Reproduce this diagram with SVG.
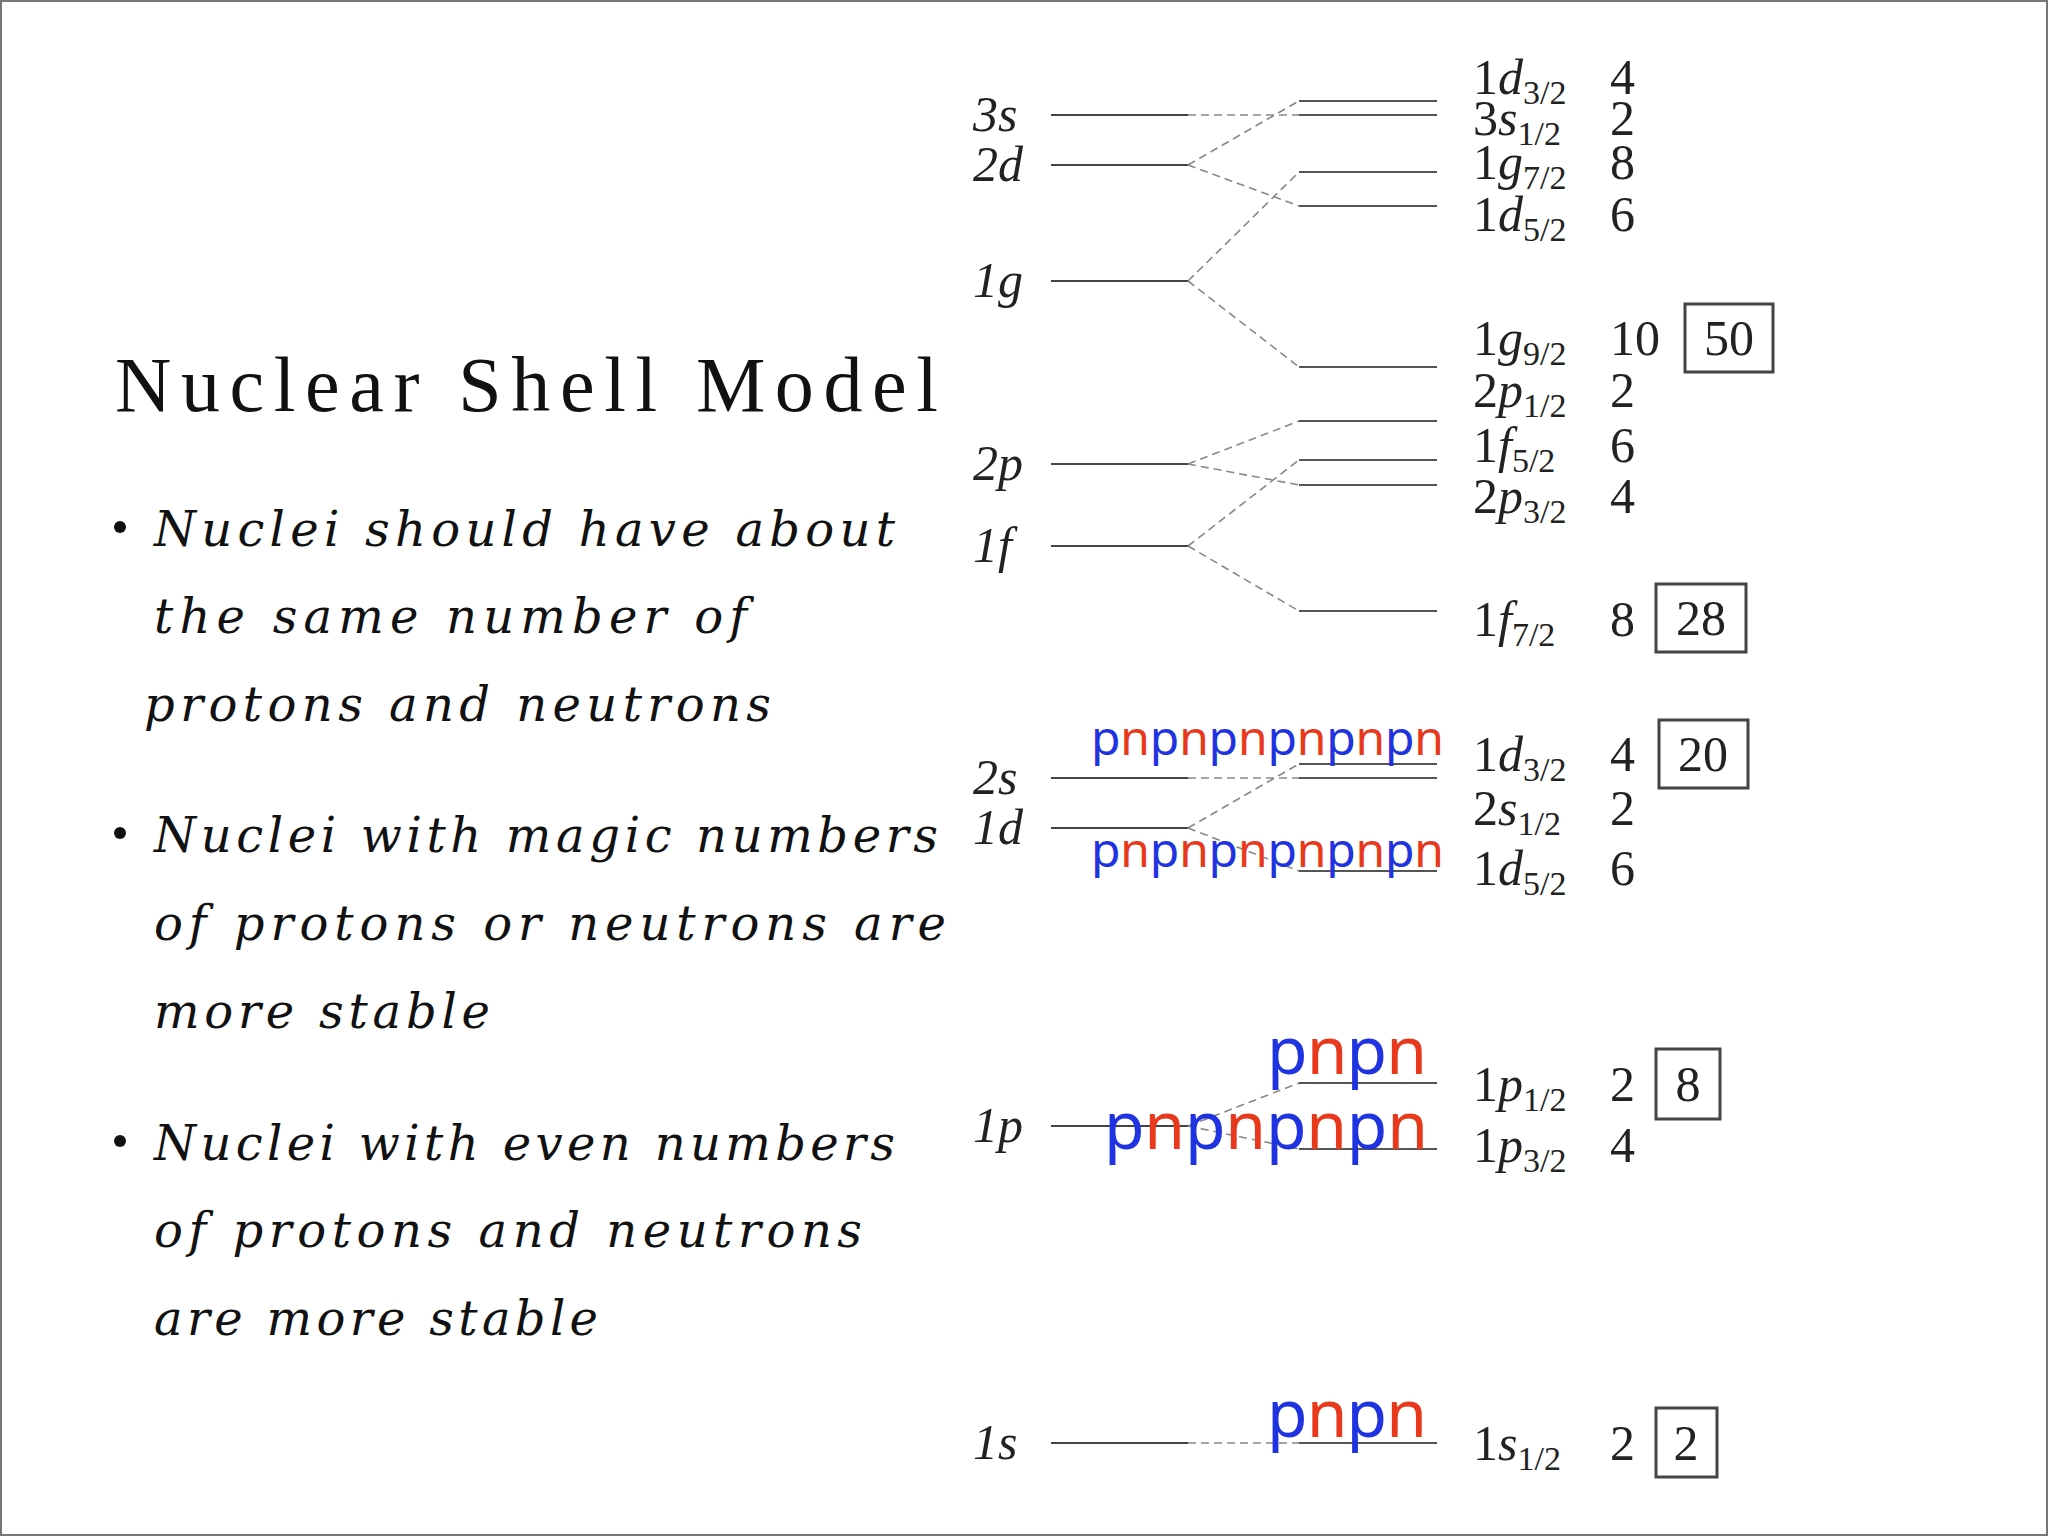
<svg xmlns="http://www.w3.org/2000/svg" width="2048" height="1536" viewBox="0 0 2048 1536">
<style>
.lv{stroke:#444;stroke-width:2}
.rv{stroke:#555;stroke-width:2}
.cn line{stroke:#888;stroke-width:1.6;stroke-dasharray:8 5}
.ll{font-family:"Liberation Serif",serif;font-style:italic;font-size:50px;fill:#222}
.rl{font-family:"Liberation Serif",serif;font-size:50px;fill:#222}
.sub{font-size:34px}
.bx{fill:none;stroke:#444;stroke-width:3}
.bt{font-family:"Liberation Serif",serif;font-size:50px;fill:#222;text-anchor:middle}
.bl{font-family:"DejaVu Serif",serif;font-style:italic;font-size:48px;fill:#111}
.pn{font-family:"Noto Sans",sans-serif}
.p{fill:#1f33e0}.n{fill:#e8391c}
</style>
<rect x="1" y="1" width="2046" height="1534" fill="#fff" stroke="#777" stroke-width="2"/>
<text x="115" y="411" font-family="Liberation Serif,serif" font-size="78" textLength="823" fill="#111">Nuclear Shell Model</text>
<g id="bullets">
<circle cx="120" cy="527" r="6" fill="#111"/><circle cx="120" cy="833" r="6" fill="#111"/><circle cx="120" cy="1141" r="6" fill="#111"/>
<text class="bl" x="154" y="546" textLength="741">Nuclei should have about</text>
<text class="bl" x="154" y="633" textLength="593">the same number of</text>
<text class="bl" x="144" y="721" textLength="627">protons and neutrons</text>
<text class="bl" x="154" y="852" textLength="784">Nuclei with magic numbers</text>
<text class="bl" x="154" y="940" textLength="792">of protons or neutrons are</text>
<text class="bl" x="154" y="1028" textLength="336">more stable</text>
<text class="bl" x="154" y="1160" textLength="741">Nuclei with even numbers</text>
<text class="bl" x="154" y="1247" textLength="708">of protons and neutrons</text>
<text class="bl" x="154" y="1335" textLength="444">are more stable</text>
</g>
<g id="left-levels">
<line class="lv" x1="1051" x2="1188" y1="115" y2="115"/><text class="ll" x="973" y="131">3s</text>
<line class="lv" x1="1051" x2="1188" y1="165" y2="165"/><text class="ll" x="973" y="181">2d</text>
<line class="lv" x1="1051" x2="1188" y1="281" y2="281"/><text class="ll" x="973" y="297">1g</text>
<line class="lv" x1="1051" x2="1188" y1="464" y2="464"/><text class="ll" x="973" y="480">2p</text>
<line class="lv" x1="1051" x2="1188" y1="546" y2="546"/><text class="ll" x="973" y="562">1f</text>
<line class="lv" x1="1051" x2="1188" y1="778" y2="778"/><text class="ll" x="973" y="794">2s</text>
<line class="lv" x1="1051" x2="1188" y1="828" y2="828"/><text class="ll" x="973" y="844">1d</text>
<line class="lv" x1="1051" x2="1188" y1="1126" y2="1126"/><text class="ll" x="973" y="1142">1p</text>
<line class="lv" x1="1051" x2="1188" y1="1443" y2="1443"/><text class="ll" x="973" y="1459">1s</text>
</g>
<g id="connectors" class="cn">
<line x1="1188" y1="115" x2="1299" y2="115"/>
<line x1="1188" y1="165" x2="1299" y2="101"/><line x1="1188" y1="165" x2="1299" y2="206"/>
<line x1="1188" y1="281" x2="1299" y2="172"/><line x1="1188" y1="281" x2="1299" y2="367"/>
<line x1="1188" y1="464" x2="1299" y2="421"/><line x1="1188" y1="464" x2="1299" y2="485"/>
<line x1="1188" y1="546" x2="1299" y2="460"/><line x1="1188" y1="546" x2="1299" y2="611"/>
<line x1="1188" y1="778" x2="1299" y2="778"/>
<line x1="1188" y1="828" x2="1299" y2="764"/><line x1="1188" y1="828" x2="1299" y2="871"/>
<line x1="1188" y1="1126" x2="1299" y2="1083"/><line x1="1188" y1="1126" x2="1299" y2="1149"/>
<line x1="1188" y1="1443" x2="1299" y2="1443"/>
</g>
<g id="right-levels">
<line class="rv" x1="1299" x2="1437" y1="101" y2="101"/><text class="rl" x="1473" y="94">1<tspan font-style="italic">d</tspan><tspan class="sub" dy="10">3/2</tspan></text><text class="rl" x="1610" y="94">4</text>
<line class="rv" x1="1299" x2="1437" y1="115" y2="115"/><text class="rl" x="1473" y="135">3<tspan font-style="italic">s</tspan><tspan class="sub" dy="10">1/2</tspan></text><text class="rl" x="1610" y="135">2</text>
<line class="rv" x1="1299" x2="1437" y1="172" y2="172"/><text class="rl" x="1473" y="179">1<tspan font-style="italic">g</tspan><tspan class="sub" dy="10">7/2</tspan></text><text class="rl" x="1610" y="179">8</text>
<line class="rv" x1="1299" x2="1437" y1="206" y2="206"/><text class="rl" x="1473" y="231">1<tspan font-style="italic">d</tspan><tspan class="sub" dy="10">5/2</tspan></text><text class="rl" x="1610" y="231">6</text>
<line class="rv" x1="1299" x2="1437" y1="367" y2="367"/><text class="rl" x="1473" y="355">1<tspan font-style="italic">g</tspan><tspan class="sub" dy="10">9/2</tspan></text><text class="rl" x="1610" y="355">10</text>
<line class="rv" x1="1299" x2="1437" y1="421" y2="421"/><text class="rl" x="1473" y="407">2<tspan font-style="italic">p</tspan><tspan class="sub" dy="10">1/2</tspan></text><text class="rl" x="1610" y="407">2</text>
<line class="rv" x1="1299" x2="1437" y1="460" y2="460"/><text class="rl" x="1473" y="462">1<tspan font-style="italic">f</tspan><tspan class="sub" dy="10">5/2</tspan></text><text class="rl" x="1610" y="462">6</text>
<line class="rv" x1="1299" x2="1437" y1="485" y2="485"/><text class="rl" x="1473" y="513">2<tspan font-style="italic">p</tspan><tspan class="sub" dy="10">3/2</tspan></text><text class="rl" x="1610" y="513">4</text>
<line class="rv" x1="1299" x2="1437" y1="611" y2="611"/><text class="rl" x="1473" y="636">1<tspan font-style="italic">f</tspan><tspan class="sub" dy="10">7/2</tspan></text><text class="rl" x="1610" y="636">8</text>
<line class="rv" x1="1299" x2="1437" y1="764" y2="764"/><text class="rl" x="1473" y="771">1<tspan font-style="italic">d</tspan><tspan class="sub" dy="10">3/2</tspan></text><text class="rl" x="1610" y="771">4</text>
<line class="rv" x1="1299" x2="1437" y1="778" y2="778"/><text class="rl" x="1473" y="825">2<tspan font-style="italic">s</tspan><tspan class="sub" dy="10">1/2</tspan></text><text class="rl" x="1610" y="825">2</text>
<line class="rv" x1="1299" x2="1437" y1="871" y2="871"/><text class="rl" x="1473" y="885">1<tspan font-style="italic">d</tspan><tspan class="sub" dy="10">5/2</tspan></text><text class="rl" x="1610" y="885">6</text>
<line class="rv" x1="1299" x2="1437" y1="1083" y2="1083"/><text class="rl" x="1473" y="1101">1<tspan font-style="italic">p</tspan><tspan class="sub" dy="10">1/2</tspan></text><text class="rl" x="1610" y="1101">2</text>
<line class="rv" x1="1299" x2="1437" y1="1149" y2="1149"/><text class="rl" x="1473" y="1162">1<tspan font-style="italic">p</tspan><tspan class="sub" dy="10">3/2</tspan></text><text class="rl" x="1610" y="1162">4</text>
<line class="rv" x1="1299" x2="1437" y1="1443" y2="1443"/><text class="rl" x="1473" y="1460">1<tspan font-style="italic">s</tspan><tspan class="sub" dy="10">1/2</tspan></text><text class="rl" x="1610" y="1460">2</text>
</g>
<g id="magic">
<rect class="bx" x="1685" y="304" width="88" height="68"/><text class="bt" x="1729" y="355">50</text>
<rect class="bx" x="1656" y="584" width="90" height="68"/><text class="bt" x="1701" y="635">28</text>
<rect class="bx" x="1659" y="720" width="89" height="68"/><text class="bt" x="1703" y="771">20</text>
<rect class="bx" x="1656" y="1049" width="64" height="70"/><text class="bt" x="1688" y="1101">8</text>
<rect class="bx" x="1656" y="1408" width="61" height="69"/><text class="bt" x="1686" y="1460">2</text>
</g>
<g id="nucleons" class="pn">
<text x="1091" y="755" font-size="48" textLength="353"><tspan class="p">p</tspan><tspan class="n">n</tspan><tspan class="p">p</tspan><tspan class="n">n</tspan><tspan class="p">p</tspan><tspan class="n">n</tspan><tspan class="p">p</tspan><tspan class="n">n</tspan><tspan class="p">p</tspan><tspan class="n">n</tspan><tspan class="p">p</tspan><tspan class="n">n</tspan></text>
<text x="1091" y="867" font-size="48" textLength="353"><tspan class="p">p</tspan><tspan class="n">n</tspan><tspan class="p">p</tspan><tspan class="n">n</tspan><tspan class="p">p</tspan><tspan class="n">n</tspan><tspan class="p">p</tspan><tspan class="n">n</tspan><tspan class="p">p</tspan><tspan class="n">n</tspan><tspan class="p">p</tspan><tspan class="n">n</tspan></text>
<text x="1267" y="1074" font-size="66" textLength="160"><tspan class="p">p</tspan><tspan class="n">n</tspan><tspan class="p">p</tspan><tspan class="n">n</tspan></text>
<text x="1104" y="1149" font-size="66" textLength="324"><tspan class="p">p</tspan><tspan class="n">n</tspan><tspan class="p">p</tspan><tspan class="n">n</tspan><tspan class="p">p</tspan><tspan class="n">n</tspan><tspan class="p">p</tspan><tspan class="n">n</tspan></text>
<text x="1267" y="1437" font-size="66" textLength="160"><tspan class="p">p</tspan><tspan class="n">n</tspan><tspan class="p">p</tspan><tspan class="n">n</tspan></text>
</g>
</svg>
